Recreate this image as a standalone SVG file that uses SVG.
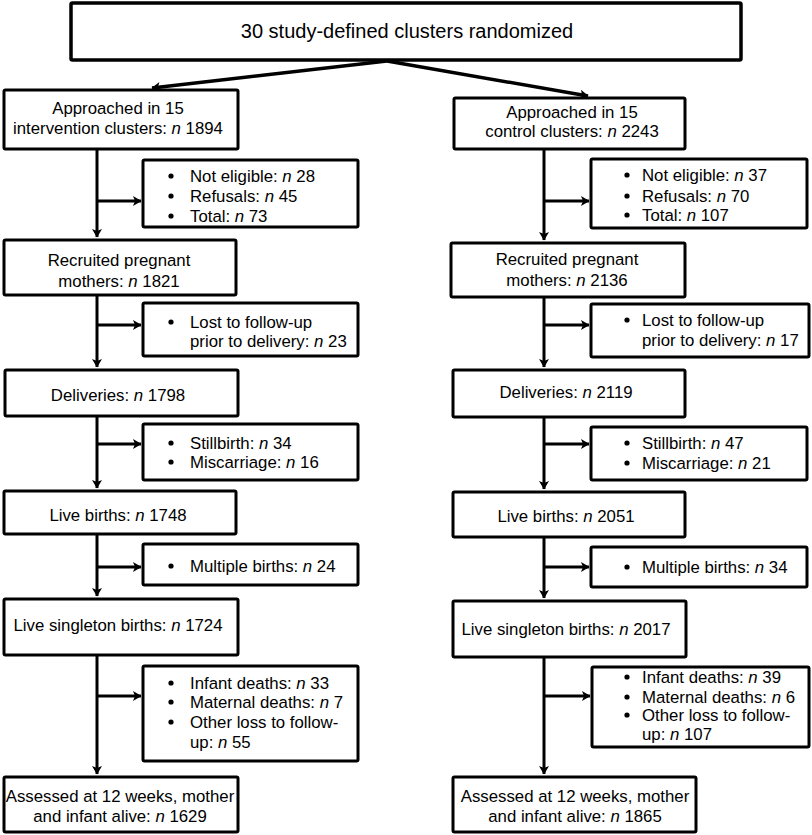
<svg xmlns="http://www.w3.org/2000/svg" width="812" height="835" viewBox="0 0 812 835">
<defs>
<style>
.box{fill:#fff;stroke:#000;stroke-width:3;}
.t{font-family:"Liberation Sans",Arial,Helvetica,sans-serif;font-size:16.8px;fill:#000;}
.c{text-anchor:middle;}
.big{font-size:20px;}
.i{font-style:italic;}
.ln{stroke:#000;stroke-width:3;fill:none;marker-end:url(#ah);}
.thick{stroke-width:3.5;}
.dot{fill:#000;}
</style>
<marker id="ah" markerUnits="userSpaceOnUse" viewBox="-1 -6 11 12" refX="8" refY="0" markerWidth="11" markerHeight="12" orient="auto">
<path d="M0,-5 L8.5,0 L0,5 L2,0 Z" fill="#000"/>
</marker>
</defs>

<g id="connectors">
<line class="ln thick" x1="387" y1="61" x2="152" y2="88"/>
<line class="ln thick" x1="387" y1="61" x2="588" y2="96"/>
<!-- left column -->
<line class="ln" x1="97" y1="150" x2="97" y2="237"/>
<line class="ln" x1="97" y1="201" x2="141" y2="201"/>
<line class="ln" x1="97" y1="296" x2="97" y2="367"/>
<line class="ln" x1="97" y1="325" x2="141" y2="325"/>
<line class="ln" x1="97" y1="416" x2="97" y2="488"/>
<line class="ln" x1="97" y1="444" x2="141" y2="444"/>
<line class="ln" x1="97" y1="534" x2="97" y2="596"/>
<line class="ln" x1="97" y1="567" x2="141" y2="567"/>
<line class="ln" x1="97" y1="655" x2="97" y2="774"/>
<line class="ln" x1="97" y1="696" x2="141" y2="696"/>
<!-- right column -->
<line class="ln" x1="544" y1="150" x2="544" y2="240"/>
<line class="ln" x1="544" y1="201" x2="589" y2="201"/>
<line class="ln" x1="544" y1="297" x2="544" y2="367"/>
<line class="ln" x1="544" y1="325" x2="589" y2="325"/>
<line class="ln" x1="544" y1="417" x2="544" y2="489"/>
<line class="ln" x1="544" y1="444" x2="589" y2="444"/>
<line class="ln" x1="544" y1="537" x2="544" y2="598"/>
<line class="ln" x1="544" y1="567" x2="589" y2="567"/>
<line class="ln" x1="544" y1="657" x2="544" y2="774"/>
<line class="ln" x1="544" y1="696" x2="590" y2="696"/>
</g>

<g id="top">
<rect class="box" x="71" y="3" width="670" height="57" rx="1.5" style="stroke-width:3.5"/>
<text class="t big c" x="407" y="38">30 study-defined clusters randomized</text>
</g>

<g id="approachedL">
<rect class="box" x="4" y="90" width="234" height="59" rx="1.5"/>
<text class="t c" x="118" y="114">Approached in 15</text>
<text class="t c" x="118" y="134">intervention clusters: <tspan class="i">n</tspan> 1894</text>
</g>
<g id="approachedR">
<rect class="box" x="454" y="98" width="231" height="51" rx="1.5"/>
<text class="t c" x="572" y="118">Approached in 15</text>
<text class="t c" x="572" y="137">control clusters: <tspan class="i">n</tspan> 2243</text>
</g>

<g id="exclL">
<rect class="box" x="143" y="160" width="215" height="67" rx="1.5"/>
<circle class="dot" cx="171" cy="176" r="2.6"/>
<circle class="dot" cx="171" cy="196" r="2.6"/>
<circle class="dot" cx="171" cy="216" r="2.6"/>
<text class="t" x="190" y="182">Not eligible: <tspan class="i">n</tspan> 28</text>
<text class="t" x="190" y="202">Refusals: <tspan class="i">n</tspan> 45</text>
<text class="t" x="190" y="222">Total: <tspan class="i">n</tspan> 73</text>
</g>
<g id="exclR">
<rect class="box" x="591" y="159" width="216" height="69" rx="1.5"/>
<circle class="dot" cx="627" cy="175" r="2.6"/>
<circle class="dot" cx="627" cy="196" r="2.6"/>
<circle class="dot" cx="627" cy="215" r="2.6"/>
<text class="t" x="642" y="181">Not eligible: <tspan class="i">n</tspan> 37</text>
<text class="t" x="642" y="202">Refusals: <tspan class="i">n</tspan> 70</text>
<text class="t" x="642" y="221">Total: <tspan class="i">n</tspan> 107</text>
</g>

<g id="recruitedL">
<rect class="box" x="4" y="240" width="232" height="55" rx="1.5"/>
<text class="t c" x="119" y="266">Recruited pregnant</text>
<text class="t c" x="119" y="287">mothers: <tspan class="i">n</tspan> 1821</text>
</g>
<g id="recruitedR">
<rect class="box" x="451" y="243" width="234" height="54" rx="1.5"/>
<text class="t c" x="567" y="265">Recruited pregnant</text>
<text class="t c" x="567" y="286">mothers: <tspan class="i">n</tspan> 2136</text>
</g>

<g id="lostL">
<rect class="box" x="143" y="303" width="215" height="53" rx="1.5"/>
<circle class="dot" cx="171" cy="322" r="2.6"/>
<text class="t" x="190" y="328">Lost to follow-up</text>
<text class="t" x="190" y="347">prior to delivery: <tspan class="i">n</tspan> 23</text>
</g>
<g id="lostR">
<rect class="box" x="591" y="304" width="218" height="53" rx="1.5"/>
<circle class="dot" cx="627" cy="320" r="2.6"/>
<text class="t" x="642" y="326">Lost to follow-up</text>
<text class="t" x="642" y="346">prior to delivery: <tspan class="i">n</tspan> 17</text>
</g>

<g id="deliveriesL">
<rect class="box" x="5" y="370" width="233" height="46" rx="1.5"/>
<text class="t c" x="118" y="401">Deliveries: <tspan class="i">n</tspan> 1798</text>
</g>
<g id="deliveriesR">
<rect class="box" x="453" y="370" width="232" height="47" rx="1.5"/>
<text class="t c" x="566" y="398">Deliveries: <tspan class="i">n</tspan> 2119</text>
</g>

<g id="stillL">
<rect class="box" x="143" y="424" width="215" height="56" rx="1.5"/>
<circle class="dot" cx="171" cy="443" r="2.6"/>
<circle class="dot" cx="171" cy="462" r="2.6"/>
<text class="t" x="190" y="449">Stillbirth: <tspan class="i">n</tspan> 34</text>
<text class="t" x="190" y="468">Miscarriage: <tspan class="i">n</tspan> 16</text>
</g>
<g id="stillR">
<rect class="box" x="591" y="427" width="216" height="53" rx="1.5"/>
<circle class="dot" cx="627" cy="443" r="2.6"/>
<circle class="dot" cx="627" cy="463" r="2.6"/>
<text class="t" x="642" y="449">Stillbirth: <tspan class="i">n</tspan> 47</text>
<text class="t" x="642" y="469">Miscarriage: <tspan class="i">n</tspan> 21</text>
</g>

<g id="liveL">
<rect class="box" x="4" y="491" width="232" height="43" rx="1.5"/>
<text class="t c" x="118" y="521">Live births: <tspan class="i">n</tspan> 1748</text>
</g>
<g id="liveR">
<rect class="box" x="453" y="492" width="232" height="45" rx="1.5"/>
<text class="t c" x="566" y="522">Live births: <tspan class="i">n</tspan> 2051</text>
</g>

<g id="multipleL">
<rect class="box" x="143" y="544" width="215" height="41" rx="1.5"/>
<circle class="dot" cx="171" cy="566" r="2.6"/>
<text class="t" x="190" y="572">Multiple births: <tspan class="i">n</tspan> 24</text>
</g>
<g id="multipleR">
<rect class="box" x="591" y="547" width="216" height="40" rx="1.5"/>
<circle class="dot" cx="627" cy="567" r="2.6"/>
<text class="t" x="642" y="573">Multiple births: <tspan class="i">n</tspan> 34</text>
</g>

<g id="singletonL">
<rect class="box" x="4" y="599" width="234" height="56" rx="1.5"/>
<text class="t c" x="118" y="631">Live singleton births: <tspan class="i">n</tspan> 1724</text>
</g>
<g id="singletonR">
<rect class="box" x="453" y="601" width="233" height="56" rx="1.5"/>
<text class="t c" x="566" y="635">Live singleton births: <tspan class="i">n</tspan> 2017</text>
</g>

<g id="infantL">
<rect class="box" x="143" y="666" width="215" height="95" rx="1.5"/>
<circle class="dot" cx="171" cy="683" r="2.6"/>
<circle class="dot" cx="171" cy="702" r="2.6"/>
<circle class="dot" cx="171" cy="722" r="2.6"/>
<text class="t" x="190" y="689">Infant deaths: <tspan class="i">n</tspan> 33</text>
<text class="t" x="190" y="708">Maternal deaths: <tspan class="i">n</tspan> 7</text>
<text class="t" x="190" y="728">Other loss to follow-</text>
<text class="t" x="190" y="748">up: <tspan class="i">n</tspan> 55</text>
</g>
<g id="infantR">
<rect class="box" x="592" y="667" width="217" height="80" rx="1.5"/>
<circle class="dot" cx="627" cy="677" r="2.6"/>
<circle class="dot" cx="627" cy="697" r="2.6"/>
<circle class="dot" cx="627" cy="715" r="2.6"/>
<text class="t" x="642" y="683">Infant deaths: <tspan class="i">n</tspan> 39</text>
<text class="t" x="642" y="703">Maternal deaths: <tspan class="i">n</tspan> 6</text>
<text class="t" x="642" y="721">Other loss to follow-</text>
<text class="t" x="642" y="740">up: <tspan class="i">n</tspan> 107</text>
</g>

<g id="assessedL">
<rect class="box" x="4" y="777" width="234" height="55" rx="1.5"/>
<text class="t c" x="120" y="802">Assessed at 12 weeks, mother</text>
<text class="t c" x="120" y="822">and infant alive: <tspan class="i">n</tspan> 1629</text>
</g>
<g id="assessedR">
<rect class="box" x="453" y="777" width="243" height="55" rx="1.5"/>
<text class="t c" x="575" y="802">Assessed at 12 weeks, mother</text>
<text class="t c" x="575" y="822">and infant alive: <tspan class="i">n</tspan> 1865</text>
</g>
</svg>
